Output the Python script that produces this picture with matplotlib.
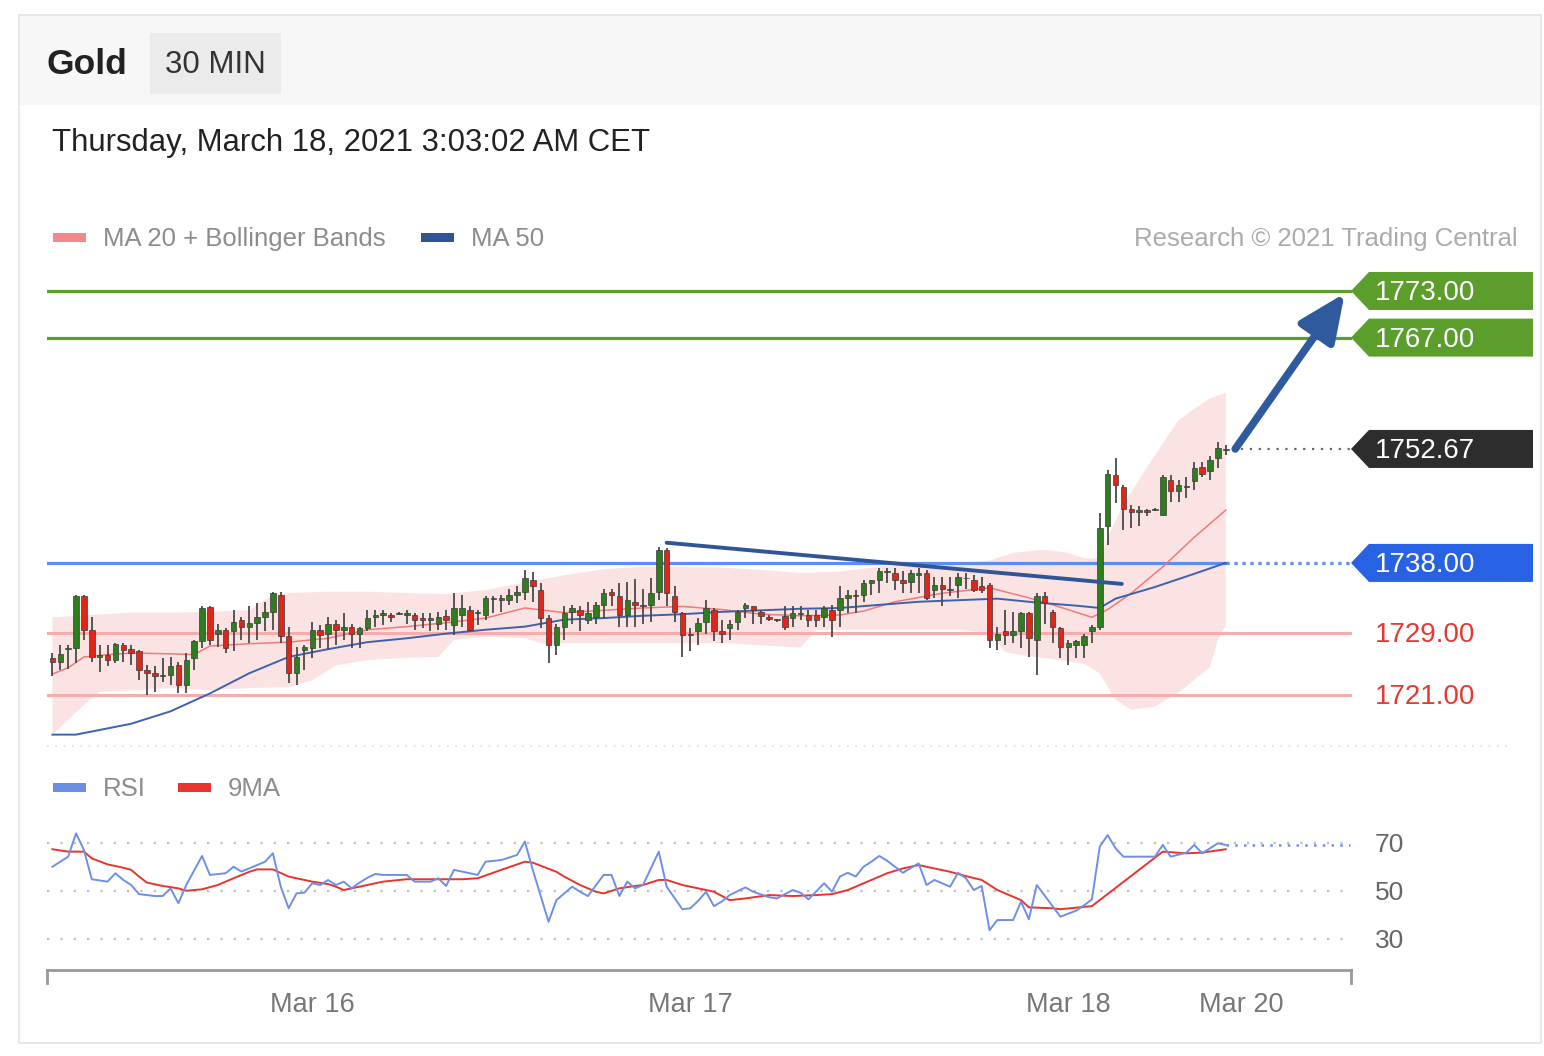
import numpy as np
import matplotlib.pyplot as plt
from matplotlib.patches import Rectangle, Polygon
from matplotlib.transforms import blended_transform_factory

plt.rcParams['font.family'] = ['Liberation Sans', 'DejaVu Sans']

# ---------------- data ----------------
opens = [1725.7, 1725.2, 1726.9, 1727.1, 1733.7, 1729.4, 1725.9, 1726.2, 1725.5, 1727.4,
         1726.9, 1726.6, 1724.2, 1723.8, 1723.4, 1723.6, 1724.9, 1722.3, 1725.7, 1727.9,
         1732.3, 1728.9, 1729.4, 1729.2, 1730.7, 1729.8, 1730.3, 1731.1, 1731.7, 1733.9,
         1728.6, 1723.8, 1726.8, 1727.0, 1729.4, 1728.9, 1730.1, 1729.4, 1729.8, 1728.9,
         1729.6, 1731.0, 1731.3, 1731.3, 1731.4, 1731.3, 1731.3, 1730.9, 1730.7, 1730.2,
         1731.2, 1730.0, 1731.3, 1732.0, 1731.5, 1731.3, 1733.4, 1733.2, 1733.2, 1733.9,
         1734.3, 1735.8, 1734.5, 1730.9, 1727.4, 1729.8, 1731.7, 1732.0, 1730.7, 1731.1,
         1732.6, 1734.3, 1733.7, 1731.3, 1733.0, 1732.6, 1732.6, 1734.3, 1739.6, 1733.8,
         1731.5, 1728.9, 1729.2, 1730.4, 1732.0, 1729.2, 1729.6, 1730.4, 1732.2, 1732.4,
         1731.7, 1731.0, 1730.6, 1731.2, 1730.9, 1731.4, 1731.3, 1731.3, 1731.1, 1732.0,
         1731.9, 1733.5, 1733.9, 1733.9, 1735.4, 1735.8, 1736.8, 1736.7, 1735.8, 1735.6,
         1736.5, 1736.7, 1734.5, 1735.2, 1734.5, 1735.2, 1736.0, 1735.8, 1735.0, 1735.2,
         1728.1, 1729.2, 1728.7, 1729.2, 1731.5, 1728.1, 1733.7, 1731.7, 1729.6, 1727.2,
         1727.4, 1727.4, 1729.2, 1729.8, 1742.7, 1749.3, 1747.8, 1745.0, 1744.6, 1744.8,
         1744.8, 1744.2, 1748.7, 1747.2, 1747.8, 1748.5, 1750.3, 1749.8, 1751.5, 1752.5]
highs = [1726.4, 1727.4, 1727.4, 1733.9, 1733.9, 1731.0, 1727.4, 1727.4, 1727.7, 1727.7,
         1727.4, 1726.8, 1724.9, 1724.7, 1725.7, 1725.9, 1725.3, 1726.4, 1728.1, 1732.4,
         1732.5, 1730.1, 1729.6, 1731.9, 1731.1, 1732.4, 1732.8, 1733.0, 1734.3, 1734.3,
         1729.8, 1727.2, 1727.4, 1730.4, 1730.0, 1731.0, 1730.7, 1731.5, 1730.1, 1729.8,
         1732.0, 1731.9, 1732.0, 1731.6, 1731.7, 1732.0, 1731.6, 1731.5, 1731.5, 1731.7,
         1731.9, 1734.1, 1733.9, 1732.4, 1731.9, 1733.7, 1733.7, 1733.9, 1734.7, 1735.0,
         1737.1, 1736.8, 1735.4, 1731.3, 1730.2, 1732.5, 1732.6, 1732.4, 1733.0, 1733.0,
         1734.6, 1734.7, 1735.4, 1735.6, 1735.9, 1734.7, 1736.0, 1740.1, 1739.9, 1735.0,
         1731.7, 1729.6, 1730.9, 1733.2, 1732.2, 1730.7, 1730.7, 1731.9, 1732.9, 1732.4,
         1731.9, 1731.3, 1730.8, 1732.4, 1732.4, 1732.4, 1731.9, 1731.9, 1732.5, 1732.6,
         1735.0, 1734.5, 1734.5, 1735.8, 1735.8, 1737.3, 1737.3, 1737.3, 1736.9, 1737.1,
         1737.3, 1737.1, 1736.2, 1736.2, 1736.2, 1736.7, 1736.7, 1736.5, 1736.2, 1735.4,
         1729.8, 1731.9, 1731.7, 1731.7, 1731.7, 1734.1, 1734.3, 1731.9, 1729.8, 1728.1,
         1728.1, 1728.9, 1730.0, 1744.4, 1750.0, 1751.5, 1748.0, 1745.5, 1745.3, 1745.0,
         1745.1, 1749.3, 1749.3, 1748.7, 1749.1, 1751.0, 1751.0, 1751.7, 1753.6, 1753.2]
lows = [1723.4, 1724.2, 1724.4, 1725.1, 1728.1, 1725.3, 1724.0, 1724.7, 1725.1, 1725.3,
        1724.9, 1722.9, 1721.0, 1721.4, 1722.7, 1722.3, 1721.2, 1721.2, 1724.2, 1727.0,
        1727.4, 1727.2, 1726.4, 1726.6, 1728.1, 1727.7, 1728.1, 1729.2, 1729.4, 1727.7,
        1722.5, 1722.3, 1724.2, 1725.7, 1727.0, 1726.8, 1727.4, 1728.1, 1727.0, 1727.0,
        1729.2, 1729.8, 1730.0, 1730.4, 1731.3, 1730.2, 1729.4, 1729.6, 1729.2, 1729.4,
        1729.4, 1728.7, 1729.8, 1729.2, 1730.0, 1730.7, 1731.5, 1731.7, 1732.6, 1732.8,
        1733.2, 1733.0, 1729.6, 1725.1, 1726.2, 1728.1, 1730.2, 1729.2, 1730.2, 1730.2,
        1730.9, 1732.4, 1729.8, 1729.8, 1729.8, 1730.2, 1730.4, 1733.2, 1732.4, 1730.4,
        1725.9, 1726.6, 1727.4, 1728.9, 1727.9, 1727.7, 1728.1, 1729.4, 1730.9, 1730.2,
        1730.2, 1730.5, 1730.4, 1729.4, 1729.8, 1730.7, 1729.8, 1729.8, 1729.8, 1728.5,
        1729.8, 1731.5, 1731.5, 1733.0, 1733.9, 1734.1, 1735.4, 1734.5, 1734.1, 1734.1,
        1734.1, 1733.2, 1733.5, 1732.4, 1733.7, 1733.5, 1734.7, 1734.3, 1734.1, 1727.0,
        1726.8, 1727.4, 1727.7, 1727.0, 1725.9, 1723.6, 1730.2, 1727.7, 1725.7, 1724.9,
        1725.7, 1725.7, 1727.7, 1729.4, 1740.3, 1745.7, 1742.2, 1742.5, 1742.7, 1744.0,
        1744.7, 1744.0, 1745.9, 1745.9, 1746.3, 1747.4, 1749.1, 1748.7, 1750.2, 1751.9]
closes = [1725.3, 1726.3, 1727.1, 1733.7, 1729.4, 1725.9, 1726.2, 1725.5, 1727.6, 1726.8,
          1726.4, 1724.2, 1723.8, 1723.4, 1723.6, 1724.7, 1722.3, 1725.5, 1727.9, 1732.2,
          1728.1, 1729.4, 1727.0, 1730.4, 1729.8, 1730.3, 1731.0, 1731.7, 1734.1, 1728.6,
          1723.8, 1725.9, 1727.2, 1729.4, 1728.7, 1730.2, 1729.4, 1729.8, 1728.9, 1729.6,
          1730.9, 1731.3, 1731.5, 1731.0, 1731.6, 1731.6, 1730.7, 1730.7, 1730.9, 1731.0,
          1730.7, 1732.2, 1732.2, 1729.4, 1731.7, 1733.5, 1733.5, 1733.5, 1733.9, 1734.3,
          1736.0, 1735.0, 1730.9, 1727.4, 1729.8, 1731.6, 1732.2, 1731.3, 1731.5, 1732.6,
          1734.1, 1733.9, 1731.3, 1733.2, 1732.6, 1732.4, 1734.1, 1739.7, 1734.1, 1731.7,
          1728.7, 1728.7, 1730.3, 1732.2, 1729.2, 1728.9, 1730.2, 1731.7, 1732.6, 1731.9,
          1731.2, 1730.8, 1730.7, 1729.8, 1731.5, 1731.6, 1730.7, 1730.7, 1732.2, 1730.7,
          1733.5, 1733.9, 1733.7, 1735.4, 1735.8, 1736.9, 1737.0, 1735.8, 1735.4, 1736.7,
          1736.7, 1733.5, 1735.2, 1734.7, 1734.6, 1736.2, 1736.1, 1734.5, 1734.5, 1728.1,
          1728.9, 1728.7, 1729.2, 1731.5, 1728.3, 1733.7, 1732.8, 1729.8, 1727.2, 1727.7,
          1727.9, 1728.6, 1729.8, 1742.5, 1749.5, 1748.0, 1745.0, 1744.6, 1744.8, 1744.6,
          1745.0, 1749.1, 1747.2, 1748.0, 1747.9, 1750.2, 1749.5, 1751.3, 1752.8, 1752.7]

# moving averages and bands, sampled at candle indices
ma50_idx = [0, 3, 5, 10, 15, 20, 25, 30, 35, 40, 45, 50, 55, 60, 65, 70, 75, 80, 85, 90,
            95, 100, 105, 110, 115, 120, 125, 130, 133, 135, 140, 145, 149]
ma50_val = [1715.9, 1715.9, 1716.3, 1717.3, 1718.9, 1721.2, 1723.8, 1725.9, 1726.9, 1727.8,
            1728.3, 1728.9, 1729.4, 1729.8, 1730.7, 1730.9, 1731.2, 1731.4, 1731.7, 1731.9,
            1732.1, 1732.2, 1732.6, 1733.0, 1733.2, 1733.4, 1732.9, 1732.5, 1732.2, 1733.4,
            1734.9, 1736.6, 1738.0]
ma20_idx = [0, 2, 4, 7, 10, 15, 18, 20, 25, 30, 35, 40, 45, 50, 55, 60, 65, 70, 75, 80,
            85, 90, 95, 100, 103, 107, 113, 119, 124, 128, 132, 134, 137, 141, 145, 149]
ma20_val = [1723.7, 1724.5, 1725.9, 1726.2, 1726.4, 1726.3, 1726.2, 1727.3, 1727.6, 1727.8,
            1728.3, 1729.4, 1729.8, 1730.3, 1730.9, 1732.2, 1731.6, 1731.9, 1732.2, 1732.4,
            1732.0, 1731.4, 1731.2, 1731.3, 1731.8, 1733.0, 1734.1, 1734.8, 1733.5, 1732.3,
            1731.0, 1732.0, 1734.1, 1737.5, 1741.3, 1744.8]
bb_up_idx = [0, 5, 10, 15, 20, 25, 28, 30, 35, 40, 45, 50, 55, 60, 65, 70, 75, 80, 85, 90,
             95, 100, 105, 110, 115, 119, 122, 126, 129, 131, 133, 134, 136, 139, 143, 147, 149]
bb_up_val = [1731.0, 1731.3, 1731.6, 1731.6, 1731.7, 1731.9, 1733.9, 1734.1, 1734.3, 1734.3,
             1734.1, 1734.0, 1734.5, 1735.5, 1736.4, 1737.2, 1737.5, 1737.5, 1737.4, 1737.1,
             1736.7, 1736.9, 1737.5, 1738.0, 1738.0, 1738.3, 1739.3, 1739.7, 1739.3, 1738.6,
             1738.6, 1741.3, 1745.5, 1750.3, 1756.4, 1759.2, 1759.9]
bb_lo_idx = [0, 2, 4, 6, 10, 15, 20, 25, 30, 33, 36, 40, 45, 49, 51, 55, 60, 63, 65, 70,
             75, 80, 85, 90, 95, 97, 100, 105, 110, 115, 119, 121, 124, 128, 131, 133, 135,
             137, 140, 143, 147, 148, 149]
bb_lo_val = [1715.9, 1717.8, 1719.7, 1721.4, 1721.6, 1721.9, 1721.6, 1721.9, 1722.0, 1722.9,
             1724.8, 1725.5, 1725.8, 1725.9, 1728.1, 1728.5, 1728.3, 1727.4, 1727.7, 1727.7,
             1727.7, 1727.7, 1727.7, 1727.4, 1727.1, 1729.4, 1729.4, 1729.4, 1729.4, 1729.4,
             1729.0, 1726.5, 1726.0, 1725.5, 1725.0, 1723.8, 1720.4, 1719.1, 1719.5, 1721.3,
             1724.6, 1728.1, 1730.0]

# RSI and its 9-period average
rsi_idx = [0, 1, 2, 3, 4, 5, 7, 8, 9, 10, 11, 13, 14, 15, 16, 17, 19, 20, 22, 23, 24, 26, 27,
           28, 29, 30, 31, 32, 33, 34, 35, 36, 37, 38, 39, 40, 41, 42, 45, 46, 48, 49, 50, 51,
           53, 54, 55, 57, 59, 60, 61, 63, 64, 66, 67, 68, 70, 71, 72, 73, 74, 75, 77, 78, 80,
           81, 82, 83, 84, 85, 86, 88, 89, 91, 92, 94, 95, 96, 98, 99, 100, 101, 102, 103, 104,
           105, 106, 108, 110, 111, 112, 114, 115, 116, 117, 118, 119, 120, 122, 123, 124, 125,
           128, 130, 131, 132, 133, 134, 135, 136, 140, 141, 142, 144, 145, 146, 148, 149]
rsi_val = [60.1, 62.2, 64.3, 74.0, 67.1, 54.9, 53.9, 57.4, 54.6, 52.5, 48.7, 47.9, 47.9, 51.1,
           44.9, 52.5, 64.6, 56.7, 57.4, 60.1, 58.1, 60.8, 62.2, 65.7, 51.8, 42.8, 49.0, 49.3,
           53.2, 52.5, 54.6, 52.5, 53.9, 51.1, 53.5, 55.5, 57.1, 56.7, 56.7, 53.9, 53.9, 55.3,
           52.1, 58.8, 57.4, 56.7, 62.2, 62.9, 65.0, 70.6, 58.8, 37.2, 46.2, 51.8, 49.7, 47.9,
           56.7, 56.7, 47.9, 53.9, 51.1, 52.5, 66.4, 51.8, 42.4, 42.8, 45.9, 49.7, 43.7, 45.6,
           48.3, 51.5, 49.7, 47.4, 46.9, 50.4, 49.3, 46.5, 53.2, 49.7, 56.0, 57.6, 56.0, 60.1,
           62.2, 64.6, 62.6, 57.6, 61.5, 52.5, 54.6, 51.8, 57.6, 55.3, 50.4, 52.1, 33.7, 37.9,
           37.9, 45.6, 38.2, 52.5, 39.3, 41.8, 44.0, 46.5, 68.5, 73.3, 67.8, 64.3, 64.3, 69.2,
           64.3, 66.0, 69.2, 65.7, 69.9, 69.2]
ma9_idx = [0, 2, 4, 5, 7, 9, 10, 11, 12, 14, 16, 17, 19, 21, 23, 25, 26, 28, 30, 33, 35, 36,
           37, 40, 42, 45, 49, 52, 54, 57, 60, 61, 64, 65, 67, 69, 70, 72, 74, 75, 77, 78, 80,
           82, 84, 86, 88, 91, 94, 97, 99, 101, 103, 106, 108, 110, 111, 114, 116, 118, 120,
           123, 124, 127, 128, 132, 141, 144, 146, 149]
ma9_val = [67.4, 66.4, 66.4, 63.6, 61.1, 59.7, 58.8, 56.0, 53.5, 52.1, 51.1, 50.1, 50.7, 52.5,
           55.3, 58.0, 59.0, 59.0, 56.0, 53.9, 52.9, 51.8, 50.4, 52.5, 53.9, 54.9, 54.9, 54.9,
           55.3, 58.8, 62.2, 61.8, 58.0, 56.0, 52.5, 49.7, 49.0, 51.1, 52.1, 52.5, 54.6, 54.6,
           52.5, 51.1, 49.7, 46.2, 46.9, 48.3, 47.9, 48.3, 48.7, 50.4, 53.2, 57.4, 59.4, 60.8,
           60.1, 58.0, 56.2, 54.6, 50.4, 46.2, 43.2, 42.8, 42.4, 43.7, 66.4, 65.7, 66.0, 67.4]

# levels and annotations
resistances = [1773.00, 1767.00]
supports = [1729.00, 1721.00]
pivot = 1738.00
last_price = 1752.67
trend_idx = [78.0, 135.8]
trend_val = [1740.6, 1735.3]
arrow_from = (150.2, 1752.67)
arrow_to = (164.1, 1772.7)
rsi_levels = [70, 50, 30]
rsi_last = 69.2
date_pos = [33, 81, 129, 151]
date_labels = ['Mar 16', 'Mar 17', 'Mar 18', 'Mar 20']

# ---------------- layout helpers ----------------
W, H = 1544, 1056
X0, DX = 52.4, 7.875                       # pixel x of first candle, px per candle
PY0, PPX = 291, (1773 - 1721) / (695 - 291)  # px of 1773 level, price per px


def idx(xpx):
    return (xpx - X0) / DX


def price(ypx):
    return 1773 - (ypx - PY0) * PPX


def rsi_at(ypx):
    return 70 - (ypx - 843) / 2.4


def fx(x):
    return x / W


def fy(y):
    return 1 - y / H


fig = plt.figure(figsize=(W / 100, H / 100), dpi=100)
fig.patch.set_facecolor('white')

# card frame + header (behind the axes)
fig.patches.append(Rectangle((fx(19), fy(1043)), (1541 - 19) / W, (1043 - 15) / H,
                             transform=fig.transFigure, facecolor='white',
                             edgecolor='#e4e4e4', lw=1.2, zorder=-10))
fig.patches.append(Rectangle((fx(20), fy(105)), (1540 - 20) / W, 89 / H,
                             transform=fig.transFigure, facecolor='#f7f7f7',
                             edgecolor='none', zorder=-9))
fig.patches.append(Rectangle((fx(150), fy(94)), 131 / W, 61 / H,
                             transform=fig.transFigure, facecolor='#ebebeb',
                             edgecolor='none', zorder=-8))
fig.text(fx(47), fy(65), 'Gold', fontsize=25.5, fontweight='bold', color='#222222', va='center')
fig.text(fx(165), fy(65), '30 MIN', fontsize=22.5, color='#333333', va='center')
fig.text(fx(52), fy(143), 'Thursday, March 18, 2021 3:03:02 AM CET', fontsize=22.4,
         color='#222222', va='center')


# legends
def swatch(x, y, color):
    fig.patches.append(Rectangle((fx(x), fy(y + 9)), 33 / W, 9 / H, transform=fig.transFigure,
                                 facecolor=color, edgecolor='none'))


swatch(53, 233, '#f08a8a')
fig.text(fx(103), fy(239), 'MA 20 + Bollinger Bands', fontsize=18.5, color='#8c8c8c', va='center')
swatch(421, 233, '#2f5597')
fig.text(fx(471), fy(239), 'MA 50', fontsize=18.5, color='#8c8c8c', va='center')
fig.text(fx(1518), fy(239), 'Research \u00a9 2021 Trading Central', fontsize=18.5,
         color='#ababab', va='center', ha='right')
swatch(53, 783, '#6a8de6')
fig.text(fx(103), fy(789), 'RSI', fontsize=18.5, color='#8c8c8c', va='center')
swatch(178, 783, '#e8342c')
fig.text(fx(228), fy(789), '9MA', fontsize=18.5, color='#8c8c8c', va='center')

# ---------------- price panel ----------------
ax = fig.add_axes([fx(47), fy(750), (1533 - 47) / W, (750 - 260) / H])
ax.set_xlim(idx(47), idx(1533))
ax.set_ylim(price(750), price(260))
ax.axis('off')

# bollinger band area
poly_x = np.concatenate([bb_up_idx, bb_lo_idx[::-1]])
poly_y = np.concatenate([bb_up_val, bb_lo_val[::-1]])
ax.fill(poly_x, poly_y, color='#fce3e3', lw=0, zorder=0)

x_left, x_right = idx(47), idx(1350)
for lv in resistances:
    ax.plot([x_left, x_right], [lv, lv], color='#5a9e2c', lw=2.3, zorder=1)
for lv in supports:
    ax.plot([x_left, x_right], [lv, lv], color='#f5adad', lw=2.2, zorder=1)
n = len(closes)
ax.plot([x_left, n - 1], [pivot, pivot], color='#5b8ef0', lw=2.3, zorder=1)
ax.plot([n - 1, x_right], [pivot, pivot], color='#5b8ef0', lw=2.3, ls=(0, (1, 1.5)), zorder=1)
ax.plot([n - 0.2, x_right], [last_price, last_price], color='#666666', lw=1.6,
        ls=(0, (1, 3)), zorder=1)

ax.plot(ma20_idx, ma20_val, color='#f07a7a', lw=1.1, zorder=2)
ax.plot(ma50_idx, ma50_val, color='#3d62ad', lw=1.4, zorder=2)

# candles
o = np.array(opens)
c = np.array(closes)
xs = np.arange(n)
up = c >= o
ax.vlines(xs, lows, highs, color='#4a4a4a', lw=1.3, zorder=3)
body_h = np.maximum(np.abs(c - o), 0.12)
ax.bar(xs, body_h, bottom=np.minimum(o, c), width=0.7,
       color=np.where(up, '#2e7d1f', '#e0251b'), edgecolor='#3a3a3a', linewidth=0.5, zorder=4)

# trend line and target arrow
ax.plot(trend_idx, trend_val, color='#2f5597', lw=2.8, solid_capstyle='round', zorder=5)
ax.annotate('', xy=arrow_to, xytext=arrow_from,
            arrowprops=dict(arrowstyle='-|>,head_length=2.9,head_width=1.3', color='#2f5b9e',
                            lw=5.5, mutation_scale=10, shrinkA=0, shrinkB=0), zorder=6)

# level tags
half = 19 * PPX
nudge = 2 * PPX          # text baseline correction
xp, xa, xe = idx(1351), idx(1369), idx(1533)


def tag(level, color):
    pts = [(xp, level), (xa, level + half), (xe, level + half), (xe, level - half), (xa, level - half)]
    ax.add_patch(Polygon(pts, closed=True, facecolor=color, edgecolor='none', zorder=6,
                         clip_on=False))
    ax.text(idx(1375), level - nudge, f'{level:.2f}', color='white', fontsize=20, va='center',
            ha='left', zorder=7, clip_on=False)


for lv in resistances:
    tag(lv, '#5b9e2b')
tag(last_price, '#2d2d2d')
tag(pivot, '#2662e3')
for lv in supports:
    ax.text(idx(1375), lv - nudge, f'{lv:.2f}', color='#e53935', fontsize=20, va='center',
            ha='left')

# faint separator
ax.plot([idx(47), idx(1510)], [price(746), price(746)], color='#dddddd', lw=1.2,
        ls=(0, (1, 4)), clip_on=False)

# ---------------- RSI panel ----------------
ax2 = fig.add_axes([fx(47), fy(990), (1533 - 47) / W, (990 - 800) / H])
ax2.set_xlim(idx(47), idx(1533))
ax2.set_ylim(rsi_at(990), rsi_at(800))
ax2.axis('off')
for lv in rsi_levels:
    ax2.plot([idx(47), idx(1350)], [lv, lv], color='#bdbdbd', lw=1.6, ls=(0, (1, 5)))
    ax2.text(idx(1375), lv - 2 / 2.4, str(lv), color='#666666', fontsize=19, va='center',
             ha='left')
ax2.plot(rsi_idx, rsi_val, color='#6d8fe8', lw=1.4, zorder=3)
ax2.plot(ma9_idx, ma9_val, color='#e8342c', lw=1.4, zorder=2)
ax2.plot([rsi_idx[-1], idx(1350)], [rsi_last, rsi_last], color='#6d8fe8', lw=1.8,
         ls=(0, (1, 2.5)), zorder=3)

# date axis
trans = blended_transform_factory(ax2.transData, fig.transFigure)
ax2.plot([idx(47), idx(1351)], [fy(970), fy(970)], color='#999999', lw=2, transform=trans,
         clip_on=False)
for xe_ in (idx(47), idx(1351)):
    ax2.plot([xe_, xe_], [fy(970), fy(983)], color='#999999', lw=2, transform=trans,
             clip_on=False)
for pos, lab in zip(date_pos, date_labels):
    ax2.text(pos, fy(1005), lab, color='#777777', fontsize=19.5, ha='center', va='center',
             transform=trans)

fig.savefig('out.png', dpi=100)
